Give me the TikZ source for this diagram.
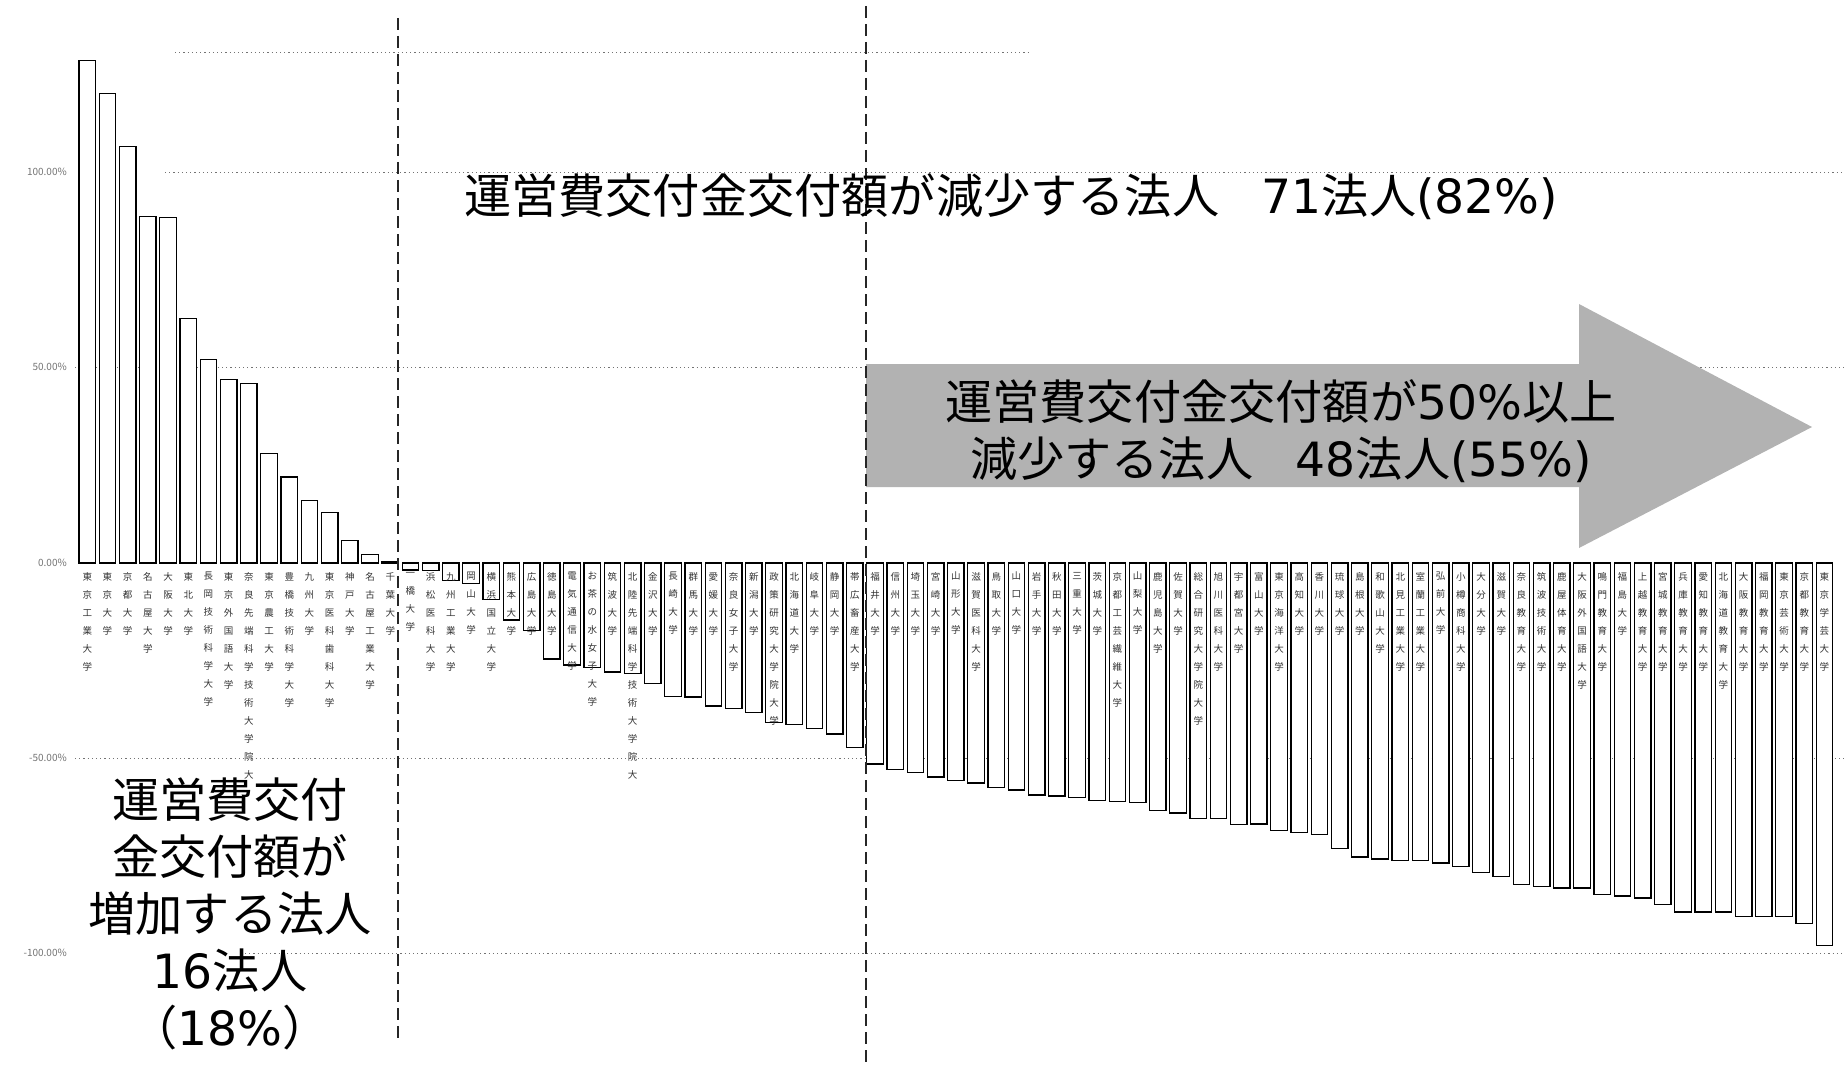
\documentclass[tikz,border=0pt]{standalone}
\usepackage{fontspec}
\setmainfont{Noto Sans CJK JP}
\newfontfamily\lat{DejaVu Sans}
\makeatletter
\newcommand\vlab[1]{\vbox{\baselineskip=18pt\lineskiplimit=-100pt\@tfor\ch:=#1\do{\hbox to 12pt{\hss\ch\hss}}}}
\makeatother
\tikzset{
  barst/.style={draw=black, fill=white, line width=1.3pt},
  vlabel/.style={anchor=north, inner sep=0pt, font=\fontsize{9.5}{18}\selectfont, text=black!80},
  ticklab/.style={anchor=east, inner sep=0pt, font=\fontsize{10}{12}\selectfont, text=black!55},
  grid/.style={draw=black!55, line width=0.9pt, dash pattern=on 1.2pt off 3pt},
  divline/.style={draw=black!85, line width=2pt, dash pattern=on 12pt off 6pt},
  bigtxt/.style={inner sep=0pt, font=\fontsize{47.2}{57}\selectfont, text=black},
  arrowfill/.style={fill=black!30, draw=none}
}
\begin{document}
\begin{tikzpicture}[x=1pt,y=-1pt]
\useasboundingbox (0,0) rectangle (1845,1070);
% gridlines
\draw[grid] (175,52) -- (1030,52);
\draw[grid] (165,172) -- (1845,172);
\draw[grid] (75,367) -- (1845,367);
\draw[grid] (75,758) -- (1845,758);
\draw[grid] (245,953) -- (1845,953);
% tick labels
\node[ticklab] (t100) at (67,172) {100.00\%};
\node[ticklab] (t50) at (67,367) {50.00\%};
\node[ticklab] (t0) at (67,563) {0.00\%};
\node[ticklab] (tm50) at (67,758) {-50.00\%};
\node[ticklab] (tm100) at (67,953) {-100.00\%};
% bars
\foreach \v/\nm [count=\i] in {
128.6/東京工業大学, 120.2/東京大学, 106.6/京都大学, 88.7/名古屋大学, 88.5/大阪大学,
62.7/東北大学, 52.2/長岡技術科学大学, 47/東京外国語大学, 46/奈良先端科学技術大学院大,
28/東京農工大学, 22/豊橋技術科学大学, 16/九州大学, 13/東京医科歯科大学, 5.7/神戸大学,
2.2/名古屋工業大学, 0.3/千葉大学,
-1.8/一橋大学, -2.0/浜松医科大学, -4.4/九州工業大学, -5.2/岡山大学, -9.3/横浜国立大学,
-14.6/熊本大学, -17.2/広島大学, -24.6/徳島大学, -26.1/電気通信大学, -26.7/お茶の水女子大学,
-27.9/筑波大学, -28.3/北陸先端科学技術大学院大, -30.8/金沢大学, -34.2/長崎大学, -34.3/群馬大学,
-36.6/愛媛大学, -37.2/奈良女子大学, -38.3/新潟大学, -40.9/政策研究大学院大学, -41.3/北海道大学,
-42.3/岐阜大学, -43.8/静岡大学, -47.2/帯広畜産大学, -51.5/福井大学, -52.8/信州大学,
-53.6/埼玉大学, -54.8/宮崎大学, -55.7/山形大学, -56.3/滋賀医科大学, -57.4/鳥取大学,
-58.1/山口大学, -59.4/岩手大学, -59.7/秋田大学, -60.0/三重大学, -60.8/茨城大学,
-61.1/京都工芸繊維大学, -61.4/山梨大学, -63.3/鹿児島大学, -64.0/佐賀大学, -65.4/総合研究大学院大学,
-65.4/旭川医科大学, -67.0/宇都宮大学, -66.8/富山大学, -68.5/東京海洋大学, -69.0/高知大学,
-69.6/香川大学, -73.1/琉球大学, -75.3/島根大学, -75.8/和歌山大学, -76.2/北見工業大学,
-76.2/室蘭工業大学, -76.8/弘前大学, -77.7/小樽商科大学, -79.2/大分大学, -80.2/滋賀大学,
-82.4/奈良教育大学, -82.8/筑波技術大学, -83.2/鹿屋体育大学, -83.2/大阪外国語大学, -84.9/鳴門教育大学,
-85.3/福島大学, -85.8/上越教育大学, -87.5/宮城教育大学, -89.4/兵庫教育大学, -89.4/愛知教育大学,
-89.4/北海道教育大学, -90.5/大阪教育大学, -90.5/福岡教育大学, -90.5/東京芸術大学, -92.4/京都教育大学,
-98.0/東京学芸大学}
{
  \pgfmathsetmacro\xl{79+(\i-1)*20.2}
  \pgfmathsetmacro\yt{563-\v*3.905}
  \draw[barst] (\xl,563) rectangle (\xl+16.5,\yt);
  \node[vlabel] (lab\i) at (\xl+8.25,572) {\expandafter\vlab\expandafter{\nm}};
}
% arrow
\path[arrowfill] (866,364) -- (1579,364) -- (1579,304) -- (1812,427) -- (1579,548) -- (1579,487) -- (866,487) -- cycle;
% dividing lines
\coordinate (d1t) at (398,18);
\coordinate (d1b) at (398,1041);
\coordinate (d2t) at (866,6);
\coordinate (d2b) at (866,1066);
\draw[divline] (d1t) -- (d1b);
\draw[divline] (d2t) -- (d2b);
% texts
\node[bigtxt] (tdec) at (1011,197) {運営費交付金交付額が減少する法人\hspace{0.9em}{\lat 71}法人{\lat (82\%)}};
\node[bigtxt, align=center] (tarrow) at (1281,431) {運営費交付金交付額が{\lat 50\%}以上\\減少する法人\hspace{0.9em}{\lat 48}法人{\lat (55\%)}};
\node[bigtxt, align=center] (tinc) at (230,914) {運営費交付\\金交付額が\\増加する法人\\{\lat 16}法人\\（{\lat 18\%}）};
\end{tikzpicture}
\end{document}
